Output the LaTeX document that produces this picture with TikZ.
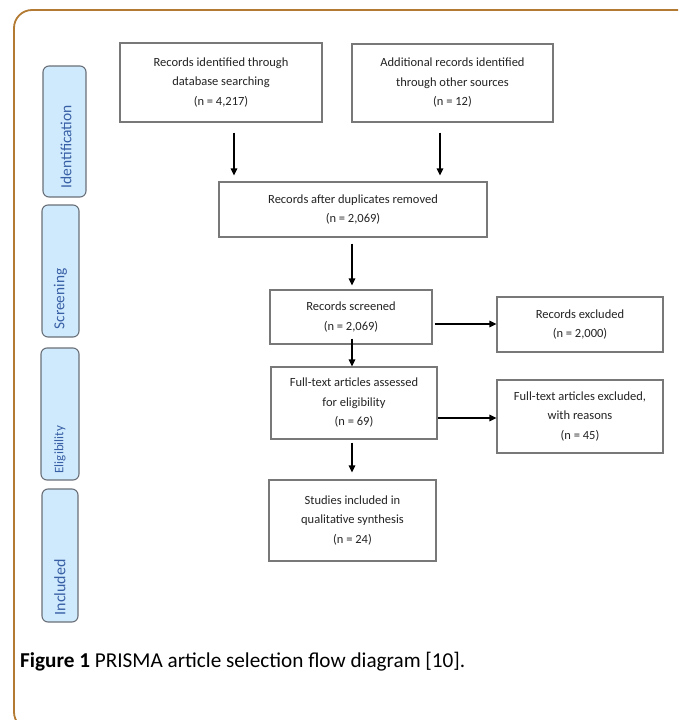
\documentclass[tikz,border=0pt]{standalone}
\usepackage{fontspec}
\setmainfont{Carlito}
\usetikzlibrary{arrows.meta}
\definecolor{framec}{RGB}{178,122,50}
\definecolor{sidefill}{RGB}{208,234,253}
\definecolor{sidedraw}{RGB}{105,112,120}
\definecolor{sidetext}{RGB}{55,95,165}
\definecolor{boxdraw}{RGB}{120,120,120}
\definecolor{boxtext}{RGB}{35,35,35}
\begin{document}
\begin{tikzpicture}[x=1pt,y=-1pt,
 box/.style={draw=boxdraw, line width=1.1pt, fill=white, inner sep=0pt, align=center,
   font=\fontsize{12.5}{19.5}\selectfont, text=boxtext},
 side/.style={draw=sidedraw, line width=1.1pt, fill=sidefill, rounded corners=6pt, inner sep=0pt},
 sidelabel/.style={rotate=90, anchor=west, inner sep=0pt, text=sidetext},
 arr/.style={line width=1.2pt, -{Triangle[width=6.5pt,length=7pt]}},
]
\useasboundingbox (0,0) rectangle (678,720);
\begin{scope}
\clip (0,0) rectangle (678,720);
\draw[framec, line width=1.8pt, rounded corners=18pt] (700,730) -- (14,730) -- (14,10) -- (700,10);
\end{scope}

% phase boxes
\node[side, minimum width=43pt, minimum height=131pt] (s1) at (64.5,131.5) {};
\node[side, minimum width=37pt, minimum height=132pt] (s2) at (60.5,271) {};
\node[side, minimum width=38pt, minimum height=132pt] (s3) at (60,414) {};
\node[side, minimum width=36pt, minimum height=133pt] (s4) at (60,555.5) {};
\node[sidelabel, font=\fontsize{15.5}{18}\selectfont] (l1) at ([xshift=1.5pt,yshift=9pt]s1.south) {Identification};
\node[sidelabel, font=\fontsize{15.3}{18}\selectfont] (l2) at ([yshift=8pt]s2.south) {Screening};
\node[sidelabel, font=\fontsize{13}{16}\selectfont] (l3) at ([yshift=7pt]s3.south) {Eligibility};
\node[sidelabel, font=\fontsize{16}{18}\selectfont] (l4) at ([yshift=7pt]s4.south) {Included};

% flow boxes
\node[box, minimum width=202pt, minimum height=79pt] (b1) at (221,82.5) {Records identified through\\database searching\\(n = 4,217)};
\node[box, minimum width=201pt, minimum height=78pt] (b2) at (452.5,83) {Additional records identified\\through other sources\\(n = 12)};
\node[box, minimum width=268pt, minimum height=55pt] (b3) at (353,209.5) {Records after duplicates removed\\(n = 2,069)};
\node[box, minimum width=162pt, minimum height=54pt] (b4) at (351,317) {Records screened\\(n = 2,069)};
\node[box, minimum width=166pt, minimum height=55pt] (b5) at (580,324.5) {Records excluded\\(n = 2,000)};
\node[box, minimum width=166pt, minimum height=72pt] (b6) at (354,403) {Full-text articles assessed\\for eligibility\\(n = 69)};
\node[box, minimum width=166pt, minimum height=73pt] (b7) at (580,416.5) {Full-text articles excluded,\\with reasons\\(n = 45)};
\node[box, minimum width=167pt, minimum height=81pt] (b8) at (352.5,520.5) {Studies included in\\qualitative synthesis\\(n = 24)};

% connectors
\draw[arr, shorten <=10pt, shorten >=6pt] (b1.south -| 234,0) -- (b3.north -| 234,0);
\draw[arr, shorten <=10pt, shorten >=6pt] (b2.south -| 440,0) -- (b3.north -| 440,0);
\draw[arr, shorten <=6pt, shorten >=4pt] (b3.south -| 352,0) -- (b4.north -| 352,0);
\draw[arr, shorten <=-6pt] (b4.south -| 352,0) -- (b6.north -| 352,0);
\draw[arr, shorten <=2pt] (b4.east |- 0,324) -- (b5.west |- 0,324);
\draw[arr] (b6.east |- 0,418) -- (b7.west |- 0,418);
\draw[arr, shorten <=3pt, shorten >=7pt] (b6.south -| 352,0) -- (b8.north -| 352,0);

% caption
\node[anchor=base west, inner sep=0pt, font=\fontsize{21.2}{24}\selectfont] (cap) at (20,667) {\textbf{Figure 1} PRISMA article selection flow diagram [10].};
\end{tikzpicture}
\end{document}
